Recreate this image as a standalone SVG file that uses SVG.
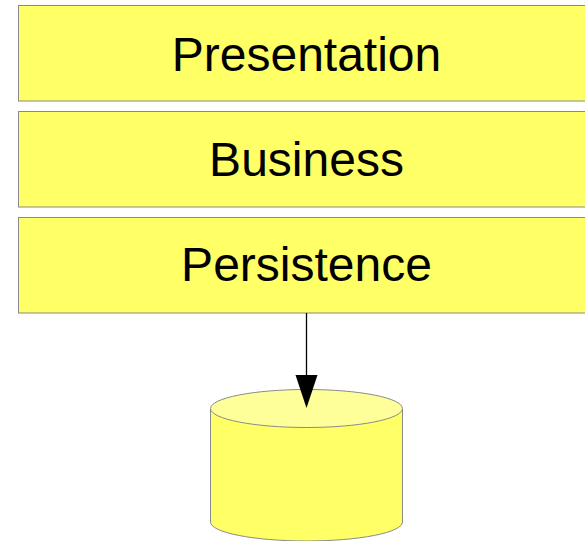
<svg xmlns="http://www.w3.org/2000/svg" width="585" height="541" viewBox="0 0 585 541">
<style>
.box{fill:#ffff66;stroke:#8a8a8a;stroke-width:1}
.lbl{font-family:"Liberation Sans",Arial,sans-serif;font-size:48px;fill:#000;text-anchor:middle}
</style>
<rect width="585" height="541" fill="#fff"/>
<g id="presentation"><rect class="box" x="18.5" y="5.5" width="580" height="95.5"/><text class="lbl" x="306.5" y="71">Presentation</text></g>
<g id="business"><rect class="box" x="18.5" y="111.5" width="580" height="95.5"/><text class="lbl" x="306.5" y="176">Business</text></g>
<g id="persistence"><rect class="box" x="18.5" y="217.5" width="580" height="95.5"/><text class="lbl" x="306.5" y="281">Persistence</text></g>
<g id="database">
<path d="M210.5,408.5 L210.5,522 A96,19 0 0 0 402.5,522 L402.5,408.5" fill="#ffff66" stroke="#8a8a8a" stroke-width="1"/>
<ellipse cx="306.5" cy="408.5" rx="96" ry="19" fill="#ffff99" stroke="#8a8a8a" stroke-width="1"/>
</g>
<g id="connectors">
<line x1="306.5" y1="313" x2="306.5" y2="380" stroke="#000" stroke-width="1.3"/>
<path d="M295.5,375 L317.5,375 L306.5,408 Z" fill="#000"/>
</g>
</svg>
